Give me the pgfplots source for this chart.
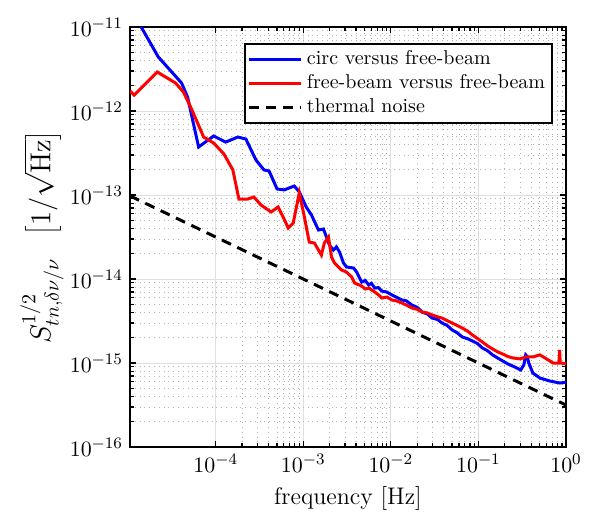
\documentclass[border=0pt]{standalone}
\usepackage{pgfplots}
\pgfplotsset{compat=1.18}

\begin{document}
\begin{tikzpicture}
\begin{axis}[
    xmode=log, ymode=log,
    scale only axis,
    width=218pt, height=210pt,
    xmin=1.05e-5, xmax=1,
    ymin=1e-16, ymax=1e-11,
    xtick={1e-4,1e-3,1e-2,1e-1,1},
    ytick={1e-16,1e-15,1e-14,1e-13,1e-12,1e-11},
    grid=both,
    major grid style={solid, gray!25, line width=0.5pt},
    minor grid style={dotted, gray!60, line width=0.4pt},
    axis line style={line width=0.8pt},
    tick style={black, line width=0.6pt},
    major tick length=3pt, minor tick length=1.8pt,
    tick label style={font=\fontsize{11}{13}\selectfont},
    xlabel style={font=\fontsize{12}{14}\selectfont},
    % rotated label: yshift moves it to the left
    ylabel style={font=\fontsize{14}{17}\selectfont, at={(rel axis cs:0,0.5)},
        anchor=center, yshift=44pt, inner sep=0pt},
    xlabel={frequency $[\mathrm{Hz}]$},
    ylabel={$S^{1/2}_{tn,\delta\nu/\nu}\ \ \left[1/\sqrt{\mathrm{Hz}}\right]$},
    legend style={font=\fontsize{10}{12}\selectfont, at={(0.970,0.962)}, anchor=north east,
        draw=black, line width=0.8pt, inner sep=1.5pt, row sep=-0.5pt},
    legend cell align=left,
    legend image code/.code={\draw[#1] (0pt,0pt) -- (26pt,0pt);},
]
\coordinate (sw) at (rel axis cs:0,0);
\coordinate (ne) at (rel axis cs:1,1);

% circ versus free-beam
\addplot[blue, line width=1.5pt] coordinates {
(1.05e-5,1.68e-11) (1.41e-5,1.0e-11) (2.21e-5,4.4e-12) (4.07e-5,2.16e-12)
(4.77e-5,1.47e-12) (6.38e-5,3.73e-13) (9.48e-5,5.04e-13) (1.30e-4,4.27e-13)
(1.79e-4,4.90e-13) (2.21e-4,4.64e-13) (2.88e-4,2.61e-13) (3.56e-4,1.99e-13)
(4.07e-4,1.93e-13) (5.02e-4,1.18e-13) (6.05e-4,1.15e-13) (7.89e-4,1.28e-13)
(9.00e-4,1.09e-13) (1.08e-3,7.20e-14) (1.24e-3,5.78e-14) (1.49e-3,3.83e-14)
(1.70e-3,3.94e-14) (1.99e-3,2.54e-14) (2.21e-3,2.21e-14) (2.39e-3,2.41e-14)
(2.59e-3,2.10e-14) (2.88e-3,1.55e-14) (3.12e-3,1.39e-14) (3.76e-3,1.35e-14)
(4.07e-3,1.21e-14) (4.64e-3,9.20e-15) (5.10e-3,9.6e-15) (5.59e-3,8.49e-15)
(6.0e-3,8.9e-15) (6.55e-3,7.81e-15) (7.2e-3,7.9e-15) (7.88e-3,7.19e-15)
(9.0e-3,7.0e-15) (1.03e-2,6.45e-15) (1.15e-2,6.1e-15) (1.34e-2,5.62e-15)
(1.5e-2,5.5e-15) (1.74e-2,4.90e-15) (2.0e-2,4.6e-15) (2.27e-2,4.04e-15)
(2.6e-2,3.85e-15) (2.96e-2,3.43e-15) (3.4e-2,3.3e-15) (3.85e-2,2.99e-15)
(4.4e-2,2.8e-15) (5.02e-2,2.47e-15) (5.7e-2,2.3e-15) (6.54e-2,2.04e-15)
(7.5e-2,1.95e-15) (8.53e-2,1.83e-15) (0.098,1.7e-15) (0.111,1.51e-15)
(0.127,1.4e-15) (0.145,1.25e-15) (0.165,1.15e-15) (0.189,1.06e-15)
(0.215,9.8e-16) (0.246,9.21e-16) (0.275,8.7e-16) (0.304,8.26e-16)
(0.33,9.5e-16) (0.347,1.25e-15) (0.36,1.2e-15) (0.376,1.0e-15)
(0.418,7.60e-16) (0.503,6.63e-16) (0.655,6.10e-16) (0.853,5.78e-16)
(1.0,5.9e-16)
};
\addlegendentry{circ versus free-beam}

% free-beam versus free-beam
\addplot[red, line width=1.5pt] coordinates {
(1.05e-5,1.73e-12) (1.17e-5,1.55e-12) (2.15e-5,2.91e-12) (3.47e-5,2.16e-12)
(4.28e-5,1.68e-12) (5.16e-5,1.12e-12) (6.21e-5,7.20e-13) (7.28e-5,4.90e-13)
(9.48e-5,4.16e-13) (1.24e-4,3.08e-13) (1.57e-4,1.99e-13) (1.84e-4,8.96e-14)
(2.33e-4,8.96e-14) (2.73e-4,9.46e-14) (3.29e-4,7.60e-14) (4.29e-4,6.28e-14)
(5.16e-4,7.20e-14) (5.89e-4,5.47e-14) (6.73e-4,4.05e-14) (7.68e-4,4.64e-14)
(9.00e-4,1.06e-13) (1.03e-3,5.47e-14) (1.17e-3,2.75e-14) (1.34e-3,2.68e-14)
(1.61e-3,1.93e-14) (1.74e-3,2.68e-14) (1.94e-3,3.16e-14) (2.10e-3,1.83e-14)
(2.27e-3,1.55e-14) (2.73e-3,1.28e-14) (3.12e-3,1.21e-14) (3.56e-3,1.06e-14)
(3.86e-3,8.96e-15) (4.64e-3,8.26e-15) (5.1e-3,7.6e-15) (5.59e-3,7.81e-15)
(6.55e-3,7.00e-15) (7.2e-3,6.5e-15) (7.88e-3,5.94e-15) (9.0e-3,6.1e-15)
(1.03e-2,5.62e-15) (1.15e-2,5.5e-15) (1.34e-2,5.18e-15) (1.5e-2,4.9e-15)
(1.74e-2,4.52e-15) (2.0e-2,4.35e-15) (2.27e-2,4.04e-15) (2.6e-2,3.95e-15)
(2.96e-2,3.73e-15) (3.4e-2,3.55e-15) (3.85e-2,3.43e-15) (4.4e-2,3.2e-15)
(5.02e-2,2.99e-15) (5.7e-2,2.8e-15) (6.54e-2,2.61e-15) (7.5e-2,2.4e-15)
(8.53e-2,2.16e-15) (0.098,1.95e-15) (0.111,1.78e-15) (0.127,1.6e-15)
(0.145,1.47e-15) (0.165,1.36e-15) (0.189,1.28e-15) (0.215,1.2e-15)
(0.246,1.15e-15) (0.299,1.12e-15) (0.347,1.18e-15) (0.418,1.18e-15)
(0.503,1.25e-15) (0.575,1.15e-15) (0.713,1.0e-15) (0.831,1.0e-15)
(0.845,1.43e-15) (0.86,1.0e-15) (1.0,9.8e-16)
};
\addlegendentry{free-beam versus free-beam}

% thermal noise, ~ f^(-1/2)
\addplot[black, line width=1.5pt, dash pattern=on 5pt off 3.5pt] coordinates {
(1.05e-5,9.76e-14) (1.0,3.16e-16)
};
\addlegendentry{thermal noise}
\end{axis}
\pgfresetboundingbox
\path ([shift={(-65pt,-36pt)}]sw) rectangle ([shift={(11.5pt,13.5pt)}]ne);
\end{tikzpicture}
\end{document}
